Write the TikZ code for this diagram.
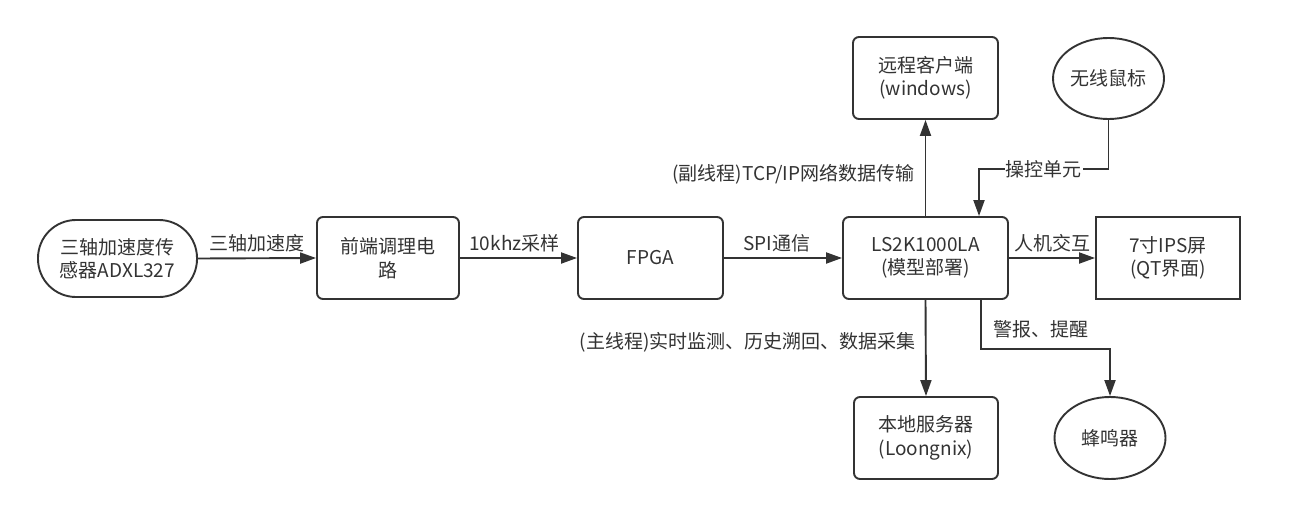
\documentclass[tikz,border=0pt]{standalone}
\usepackage{fontspec}
\newfontfamily\cjk{Noto Sans CJK SC}
\usetikzlibrary{arrows.meta,shapes.geometric,calc}
\definecolor{ink}{HTML}{333333}
\begin{document}
\begin{tikzpicture}[x=1pt,y=-1pt,
  every node/.style={text=ink, font=\cjk\fontsize{19}{23.5}\selectfont},
  box/.style={draw=ink, line width=1.9pt, rounded corners=6pt, align=center, inner sep=0pt},
  sqbox/.style={draw=ink, line width=1.9pt, align=center, inner sep=0pt},
  oval/.style={draw=ink, line width=1.9pt, ellipse, inner sep=0pt, align=center},
  arr/.style={draw=ink, line width=1.9pt, -{Triangle[length=16pt,width=11pt]}},
  lbl/.style={inner sep=2pt}
]
\useasboundingbox[fill=white] (0,0) rectangle (1316,516);

\node[box, rounded corners=38pt, minimum width=159pt, minimum height=77pt] (sensor) at (117.5,258.5) {三轴加速度传\\感器ADXL327};
\node[box, minimum width=142pt, minimum height=82pt] (pre) at (388,258) {前端调理电\\路};
\node[box, minimum width=145pt, minimum height=82pt] (fpga) at (650.5,258) {FPGA};
\node[box, minimum width=165pt, minimum height=82pt] (ls) at (925.5,258) {LS2K1000LA\\(模型部署)};
\node[sqbox, minimum width=144pt, minimum height=82pt] (ips) at (1168,258) {7寸IPS屏\\(QT界面)};
\node[box, minimum width=145pt, minimum height=82pt] (remote) at (925.5,78) {远程客户端\\(windows)};
\node[oval, minimum width=111pt, minimum height=81pt] (mouse) at (1108.5,78.5) {无线鼠标};
\node[box, minimum width=144pt, minimum height=82pt] (local) at (926,438) {本地服务器\\(Loongnix)};
\node[oval, minimum width=111pt, minimum height=82pt] (buzzer) at (1110,438) {蜂鸣器};

\draw[arr] (sensor.east) -- node[lbl, above, yshift=3pt] {三轴加速度} (pre.west);
\draw[arr] (pre.east) -- node[lbl, above, yshift=3pt, xshift=-4pt] {10khz采样} (fpga.west);
\draw[arr] (fpga.east) -- node[lbl, above, yshift=3pt, xshift=-6pt] {SPI通信} (ls.west);
\draw[arr] (ls.east) -- node[lbl, above, yshift=3pt] {人机交互} (ips.west);

\draw[arr] (ls.north) -- node[lbl, pos=0.43, anchor=east, xshift=-8pt] {(副线程)TCP/IP网络数据传输} (remote.south);
\draw[arr] (ls.south) -- node[lbl, pos=0.44, anchor=east, xshift=-7pt] {(主线程)实时监测、历史溯回、数据采集} (local.north);

\coordinate (mk) at (979,169);
\draw[arr] (mouse.south) |- node[pos=0.75, fill=white, inner sep=1pt] {操控单元} (mk) -- (mk |- ls.north);

\coordinate (bz0) at (981,299);
\coordinate (bz1) at (981,349);
\draw[arr] (bz0) -- (bz1) -| (buzzer.north);
\node[lbl, anchor=west] (alarm) at (991,329) {警报、提醒};
\end{tikzpicture}
\end{document}
